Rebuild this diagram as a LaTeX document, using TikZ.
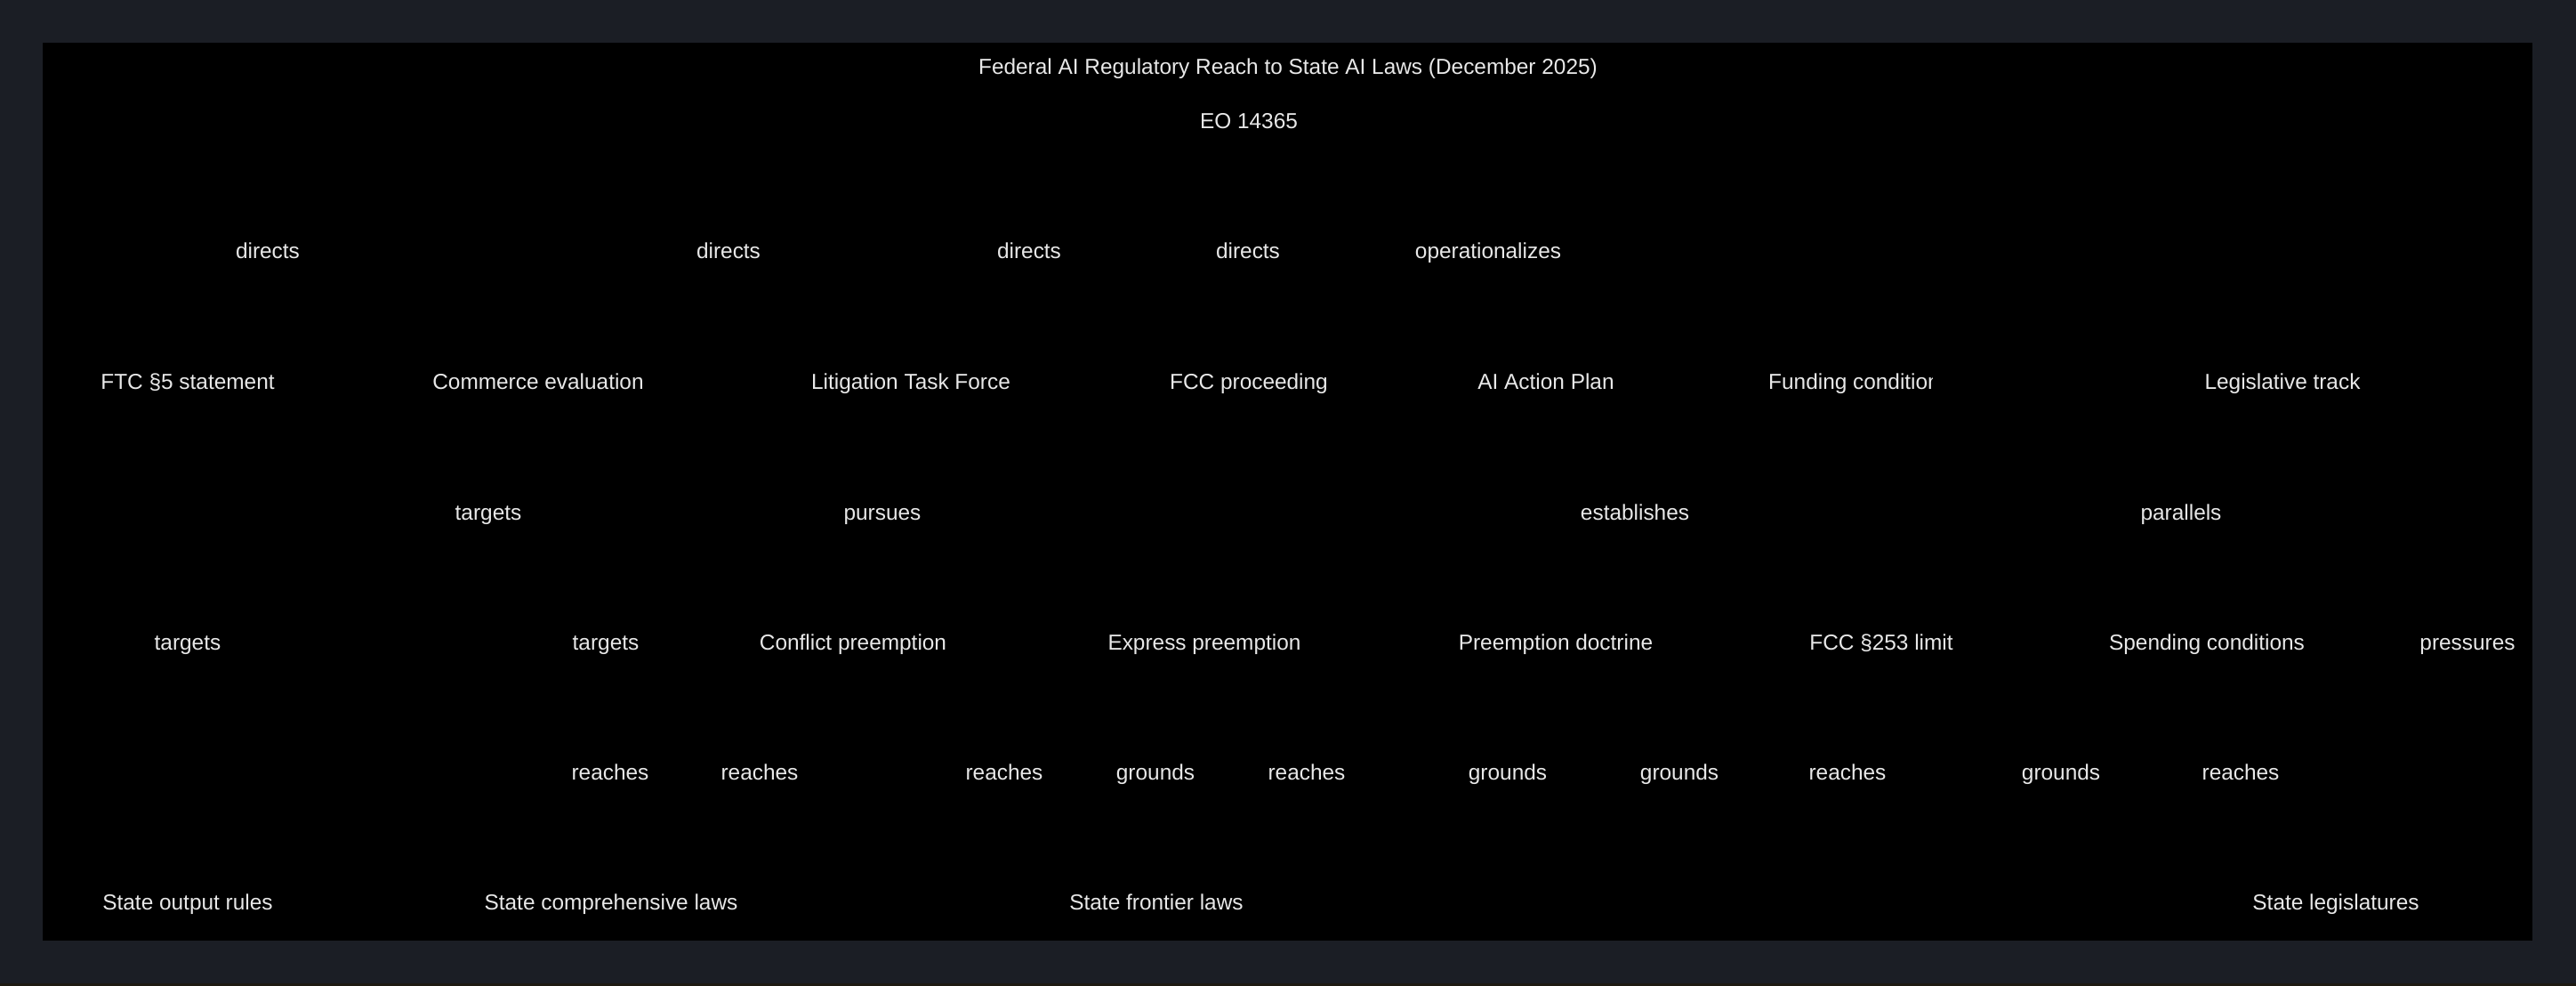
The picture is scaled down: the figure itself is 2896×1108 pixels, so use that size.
\documentclass[tikz,border=0pt]{standalone}
\usepackage{fontspec}
\setmainfont{Liberation Sans}
\definecolor{outerbg}{RGB}{27,30,37}
\definecolor{panel}{RGB}{0,0,0}
\definecolor{fg}{RGB}{232,232,232}
\definecolor{stripc}{RGB}{30,26,18}
\begin{document}
\begin{tikzpicture}[x=1pt,y=-1pt,
  lbl/.style={text=fg,font=\fontsize{24.4}{28}\selectfont,inner sep=0pt,anchor=base},
  edgelbl/.style={lbl}]
\useasboundingbox (0,0) rectangle (2896,1108);
\fill[outerbg] (0,0) rectangle (2896,1108);
\fill[stripc] (0,1105) rectangle (2896,1108);
\fill[panel] (48,48) rectangle (2847,1057);
% title
\node[lbl] (title) at (1448,84) {Federal AI Regulatory Reach to State AI Laws (December 2025)};
\node[lbl] (eo) at (1404,144) {EO 14365};
% row: directs
\node[edgelbl] (d1) at (301,290) {directs};
\node[edgelbl] (d2) at (819,290) {directs};
\node[edgelbl] (d3) at (1157,290) {directs};
\node[edgelbl] (d4) at (1403,290) {directs};
\node[edgelbl] (op) at (1673,290) {operationalizes};
% row 2
\node[lbl] (ftc) at (211,437) {FTC §5 statement};
\node[lbl] (com) at (605,437) {Commerce evaluation};
\node[lbl] (ltf) at (1024,437) {Litigation Task Force};
\node[lbl] (fcc) at (1404,437) {FCC proceeding};
\node[lbl] (aap) at (1738,437) {AI Action Plan};
\begin{scope}
\clip (1900,380) rectangle (2172,470);
\node[lbl,anchor=base west] (fund) at (1988,437) {Funding condition};
\end{scope}
\node[lbl] (leg) at (2566,437) {Legislative track};
% row 3
\node[edgelbl] (t1) at (549,584) {targets};
\node[edgelbl] (pu) at (992,584) {pursues};
\node[edgelbl] (es) at (1838,584) {establishes};
\node[edgelbl] (pa) at (2452,584) {parallels};
% row 4
\node[edgelbl] (t2) at (211,730) {targets};
\node[edgelbl] (t3) at (681,730) {targets};
\node[lbl] (cp) at (959,730) {Conflict preemption};
\node[lbl] (ep) at (1354,730) {Express preemption};
\node[lbl] (pd) at (1749,730) {Preemption doctrine};
\node[lbl] (lim) at (2115,730) {FCC §253 limit};
\node[lbl] (sc) at (2481,730) {Spending conditions};
\node[edgelbl] (pr) at (2774,730) {pressures};
% row 5
\node[edgelbl] (r1) at (686,876) {reaches};
\node[edgelbl] (r2) at (854,876) {reaches};
\node[edgelbl] (r3) at (1129,876) {reaches};
\node[edgelbl] (g1) at (1299,876) {grounds};
\node[edgelbl] (r4) at (1469,876) {reaches};
\node[edgelbl] (g2) at (1695,876) {grounds};
\node[edgelbl] (g3) at (1888,876) {grounds};
\node[edgelbl] (r5) at (2077,876) {reaches};
\node[edgelbl] (g4) at (2317,876) {grounds};
\node[edgelbl] (r6) at (2519,876) {reaches};
% row 6
\node[lbl] (sor) at (211,1022) {State output rules};
\node[lbl] (scl) at (687,1022) {State comprehensive laws};
\node[lbl] (sfl) at (1300,1022) {State frontier laws};
\node[lbl] (sl) at (2626,1022) {State legislatures};
\end{tikzpicture}
\end{document}
